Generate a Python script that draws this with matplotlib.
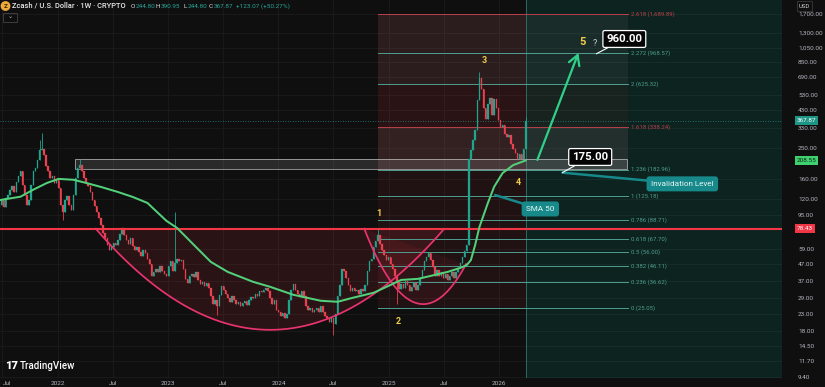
import numpy as np
import pandas as pd
import matplotlib
matplotlib.use("Agg")
import matplotlib.pyplot as plt
import matplotlib.dates as mdates
from matplotlib.ticker import NullLocator, NullFormatter
from matplotlib.patches import Circle, Rectangle

plt.rcParams['font.family'] = ['Roboto', 'DejaVu Sans']

# ---- data (weekly ZEC/USD) ----
start_date = "2021-06-21"
first_open = 106
closes = [
    110, 118, 107, 121, 127, 137, 145, 133, 154, 166,
    178, 147, 127, 110, 118, 147, 178, 186, 210, 242,
    247, 225, 193, 178, 162, 166, 150, 158, 141, 110,
    100, 118, 125, 110, 103, 127, 162, 186, 195, 178,
    162, 150, 145, 133, 118, 108, 100, 91, 83, 74,
    69, 62, 58, 60, 64, 62, 67, 73, 79, 72,
    67, 63, 69, 61, 58, 60, 56, 53, 58, 55,
    51, 47, 40, 42, 44, 42, 46, 43, 41, 40,
    46, 49, 43, 48, 51, 49, 50, 44, 38, 36,
    40, 41, 39, 42, 37.6, 35.5, 36.5, 34.5, 36, 33.5,
    30, 26.7, 28.3, 26, 30.4, 34.5, 32.6, 30.8, 29, 27.5,
    30, 28.3, 26.7, 27.5, 26, 27, 28, 26.3, 28.3, 29.5,
    29, 30.8, 30, 32, 31.5, 32.6, 33.5, 32, 29, 26.7,
    28.3, 24.5, 23.9, 22.5, 23.5, 21.8, 23, 28.3, 32.6, 35.5,
    32.6, 30.8, 29.5, 32, 30, 26, 24.5, 25, 23.9, 24.5,
    25, 23.9, 26, 23.9, 22.5, 21.8, 20.5, 21.8, 20, 23,
    30, 35, 44, 42.5, 38.5, 35, 32, 33.5, 32, 32.6,
    30.8, 33, 32, 35, 42.5, 49, 51, 60, 66, 72,
    63, 58, 54, 50, 52, 47, 44, 40, 36.5, 33,
    35.5, 33.5, 37, 35, 32, 34, 36, 32.6, 35, 38.5,
    43.4, 49, 52, 55, 50, 45, 40, 43.4, 40, 42,
    38.5, 41, 37.6, 40, 42, 38.5, 42, 44.5, 48, 52,
    57, 62, 214, 242, 279, 322, 495, 680, 580, 445,
    380, 470, 510, 400, 505, 440, 370, 335, 345, 305,
    290, 300, 262, 245, 232, 212, 228, 214, 244.80, 367.87,
]
high_wicks = {19: 280, 20: 309, 38: 213, 83: 100, 179: 78, 227: 740, 249: 390.95}
low_wicks = {30: 89, 103: 22.8, 158: 17.1, 188: 26.5}

# SMA 50 as drawn (week index, value)
sma_weeks = [0, 10, 16, 22.5, 28, 35, 41, 48, 56, 63, 70, 75, 79, 84, 92, 100, 108,
             120, 128, 139, 152, 160, 167, 177, 185, 190, 198, 212, 218, 221, 223,
             225, 227, 231, 234, 238, 243, 249]
sma_vals = [118, 124, 137, 151, 160, 158, 151, 142.6, 132.7, 123.6, 113.4, 98.3, 87.7,
            79.3, 62.1, 48.7, 42.2, 36.6, 34.1, 30.4, 27.9, 27.5, 29.1, 31.3, 35.0,
            37.6, 38.2, 42.2, 44.7, 46.5, 50, 62, 80, 113, 143, 174, 195, 208.55]

fib_ratios = ["2.618", "2.272", "2", "1.618", "1.236", "1", "0.786", "0.618",
              "0.5", "0.382", "0.236", "0"]
fib_prices = [1689.89, 968.57, 625.32, 338.24, 182.96, 125.18, 88.71, 67.70,
              56.00, 46.11, 36.62, 25.05]
fib_red = ["2.618", "1.618"]

resistance = 78.43
last_sma = 208.55
last_close = 367.87
target = 960.00
invalidation = 175.00

price_ticks = [1700, 1300, 1050, 850, 690, 530, 430, 330, 250, 160, 120, 95,
               59, 47, 37, 29, 23, 18, 14.5, 11.7, 9.4]
date_ticks = ["2021-07-01", "2022-01-01", "2022-07-01", "2023-01-01", "2023-07-01",
              "2024-01-01", "2024-07-01", "2025-01-01", "2025-07-01", "2026-01-01"]
date_labels = ["Jul", "2022", "Jul", "2023", "Jul", "2024", "Jul", "2025", "Jul", "2026"]

# ---- colours ----
BG = "#0f0f0f"
UP = "#1fa58d"
DOWN = "#e8414f"
SMA_C = "#52d07a"
ARROW_C = "#2fd08a"
PINK = "#e8336f"
RED = "#f23645"
TEAL = "#26a69a"
FIB_T = "#4e9f90"
FIB_R = "#b8404a"
YEL = "#f2cd4a"
AXIS_T = "#b2b5be"

d = mdates.datestr2num

dates = mdates.date2num(pd.date_range(start_date, periods=len(closes), freq="7D"))
c = np.array(closes, dtype=float)
o = np.array([first_open] + closes[:-1], dtype=float)
hi = np.array([high_wicks.get(i, max(o[i], c[i])) for i in range(len(c))])
lo = np.array([low_wicks.get(i, min(o[i], c[i])) for i in range(len(c))])
cols = np.where(c >= o, UP, DOWN)

fig = plt.figure(figsize=(8.25, 3.87), dpi=100, facecolor=BG)
ax = fig.add_axes([0, 9 / 387, 782 / 825, 378 / 387])
ax.set_facecolor(BG)
ax.set_yscale('log')
ax.set_xlim(d("2021-06-23"), d("2028-07-25"))
ax.set_ylim(9.226, 2077)
for s in ax.spines.values():
    s.set_visible(False)

# grid + ticks
ax.set_xticks([d(t) for t in date_ticks])
ax.set_xticklabels(date_labels)
ax.get_xticklabels()[0].set_horizontalalignment('left')
ax.set_yticks(price_ticks)
ax.set_yticklabels([f"{v:,.2f}" for v in price_ticks])
ax.yaxis.set_minor_locator(NullLocator())
ax.yaxis.set_minor_formatter(NullFormatter())
ax.yaxis.tick_right()
ax.tick_params(axis='x', length=0, pad=2, labelsize=4.6, labelcolor=AXIS_T)
ax.tick_params(axis='y', length=0, pad=11.5, labelsize=4.6, labelcolor=AXIS_T)
ax.grid(True, color="#1b1b1b", lw=0.6)
ax.set_axisbelow(True)

fib_start, fib_end, fib_lab = d("2024-11-26"), d("2027-03-04"), d("2027-03-14")
last_day = dates[-1]

# projection zone and fib shading
ax.axvspan(last_day, d("2028-08-01"), color="#089981", alpha=0.15, lw=0, zorder=1)
ax.axvline(last_day, color="#2d6b60", lw=0.7, zorder=1.2)
ax.fill_between([fib_start, last_day], fib_prices[-1], fib_prices[0],
                color=RED, alpha=0.08, lw=0, zorder=1.1)
band_style = [("#a09090", 0.09), ("#a09090", 0.09), (RED, 0.05), ("#c08a8a", 0.12)]
for k, (bc, ba) in enumerate(band_style):
    ax.fill_between([fib_start, fib_end], fib_prices[k + 1], fib_prices[k],
                    color=bc, alpha=ba, lw=0, zorder=1.1)


def arc(t_left, p_left, t_vertex, p_vertex, t_right, n=120):
    tl, tv, tr = d(t_left), d(t_vertex), d(t_right)
    t = np.linspace(tl, tr, n)
    k = (np.log10(p_left) - np.log10(p_vertex)) / (tl - tv) ** 2
    lp = np.log10(p_vertex) + k * (t - tv) ** 2
    chord = np.interp(t, [tl, tr], [lp[0], lp[-1]])
    return t, 10 ** lp, 10 ** chord


big_t, big_p, big_ch = arc("2022-05-06", 78.4, "2023-12-04", 18.4, "2025-06-30")
sm_t, sm_p, sm_ch = arc("2024-10-11", 78.4, "2025-04-24", 26.6, "2025-09-13")
ax.fill_between(big_t, big_p, big_ch, color=RED, alpha=0.12, lw=0, zorder=1.3)
ax.fill_between(sm_t, sm_p, sm_ch, color=RED, alpha=0.07, lw=0, zorder=1.3)

# resistance box
ax.fill_between([d("2022-02-26"), d("2027-03-01")], 184.5, 213, facecolor="#d0d0d0",
                alpha=0.14, edgecolor="none", zorder=2)
ax.add_patch(Rectangle((d("2022-02-26"), 184.5), d("2027-03-01") - d("2022-02-26"), 213 - 184.5,
                       fill=False, edgecolor="#cfcfcf", lw=0.7, alpha=0.65, zorder=2))

# fib lines + labels
for r, p in zip(fib_ratios, fib_prices):
    lc = FIB_R if r in fib_red else FIB_T
    ax.plot([fib_start, fib_end], [p, p], color=lc, lw=0.7, zorder=3)
    ax.text(fib_lab, p, f"{r} ({p:,.2f})", color=lc, fontsize=4.3, va='center', zorder=3)

ax.axhline(last_close, color=TEAL, lw=0.6, ls=(0, (1, 2)), alpha=0.8, zorder=2.5)

# candles
ax.vlines(dates, lo, hi, colors=cols, lw=0.6, zorder=5)
ax.bar(dates, np.abs(c - o), bottom=np.minimum(o, c), width=4.8, color=cols,
       edgecolor=cols, lw=0.2, zorder=6)

ax.axhline(resistance, color=RED, lw=1.5, zorder=7)
ax.plot(big_t, big_p, color=PINK, lw=1.25, zorder=7)
ax.plot(sm_t, sm_p, color=PINK, lw=1.25, zorder=7)

sma_dates = dates[0] + 7 * np.array(sma_weeks)
ax.plot(sma_dates, sma_vals, color=SMA_C, lw=1.45, zorder=8, solid_capstyle='round')

# wave labels
for txt, dt, p, fs in [("1", "2024-11-29", 98, 6.5), ("2", "2025-01-31", 20.6, 6.5),
                       ("3", "2025-11-12", 879, 6.5), ("4", "2026-03-05", 151, 6.5),
                       ("5", "2026-10-03", 1138, 8)]:
    ax.text(d(dt), p, txt, color=YEL, fontsize=fs, fontweight='bold',
            ha='center', va='center', zorder=9)
ax.text(d("2026-11-12"), 1106, "?", color="#d0d0d0", fontsize=6.5, ha='center', va='center', zorder=9)

ax.annotate("", xy=(d("2026-09-20"), 972), xytext=(d("2026-05-07"), 210),
            arrowprops=dict(arrowstyle="->,head_length=0.7,head_width=0.4", color=ARROW_C,
                            lw=1.6, shrinkA=0, shrinkB=0), zorder=9)

callout = dict(boxstyle="round,pad=0.3,rounding_size=0.15", fc="#050505", ec="white", lw=0.9)
ax.annotate(f"{target:.2f}", xy=(d("2026-11-18"), target), xytext=(d("2027-02-19"), 1188),
            color="white", fontsize=8.2, fontweight='bold', ha='center', va='center',
            bbox=callout, zorder=10,
            arrowprops=dict(arrowstyle="-", color="white", lw=0.8, shrinkA=0, shrinkB=0))
ax.annotate(f"{invalidation:.2f}", xy=(d("2026-07-29"), invalidation), xytext=(d("2026-10-29"), 219),
            color="white", fontsize=8.2, fontweight='bold', ha='center', va='center',
            bbox=callout, zorder=10,
            arrowprops=dict(arrowstyle="-", color="white", lw=0.8, shrinkA=0, shrinkB=0))

tealbox = dict(boxstyle="round,pad=0.55,rounding_size=0.35", fc="#17898a", ec="none")
ax.annotate("Invalidation Level", xy=(d("2026-07-29"), invalidation), xytext=(d("2027-08-30"), 149),
            color="#e6f4f4", fontsize=5.9, ha='center', va='center', bbox=tealbox, zorder=9,
            arrowprops=dict(arrowstyle="-", color="#17898a", lw=1.8, shrinkA=0, shrinkB=0))
ax.annotate("SMA 50", xy=(d("2025-12-18"), 127), xytext=(d("2026-05-17"), 104),
            color="#e6f4f4", fontsize=5.9, ha='center', va='center', bbox=tealbox, zorder=9,
            arrowprops=dict(arrowstyle="-", color="#17898a", lw=1.8, shrinkA=0, shrinkB=0))

# price-axis value boxes
ytr = ax.get_yaxis_transform()
for val, fc, tc in [(last_close, "#1f9585", "white"), (last_sma, "#3fd06f", "#0b2614"),
                    (resistance, RED, "white")]:
    ax.text(1.0185, val, f"{val:.2f}", transform=ytr, fontsize=4.6, color=tc, va='center',
            ha='left', clip_on=False, zorder=11,
            bbox=dict(boxstyle="square,pad=0.3", fc=fc, ec="none"))


def fpx(x, y):
    return x / 825, 1 - y / 387


fig.text(*fpx(799, 6), "USD", fontsize=4.3, color="#d0d0d0", va='center',
         bbox=dict(boxstyle="square,pad=0.35", fc=BG, ec="#3a3a3a", lw=0.6))

# header
fig.add_artist(Circle((5.5 / 100, (387 - 6) / 100), 0.042, transform=fig.dpi_scale_trans,
                      color="#f0a93b"))
fig.text(*fpx(5.5, 6.3), "Z", fontsize=4.5, fontweight='bold', color="#3a2200", ha='center', va='center')
fig.text(*fpx(12, 6), "Zcash / U.S. Dollar · 1W · CRYPTO", fontsize=5.4, color="#e8e8e8",
         fontweight='medium', va='center')
for x, s, col in [(131, "O", "#e0e0e0"), (136, "244.80", TEAL), (155.5, "H", "#e0e0e0"),
                  (160.5, "390.95", TEAL), (183, "L", "#e0e0e0"), (187.5, "244.80", TEAL),
                  (209, "C", "#e0e0e0"), (213.5, "367.87", TEAL), (236.5, "+123.07 (+50.27%)", TEAL)]:
    fig.text(*fpx(x, 6), s, fontsize=4.6, color=col, va='center')
fig.add_artist(Rectangle((3 / 100, (387 - 22) / 100), 0.14, 0.09, transform=fig.dpi_scale_trans,
                         fill=False, ec="#444444", lw=0.6))
fig.text(*fpx(10, 17), "⌄", fontsize=4.5, color="#bbbbbb", ha='center', va='center')

# logo
fig.text(*fpx(5, 366), "17", fontsize=8, fontweight='heavy', color="white", va='center')
fig.text(*fpx(20, 366), "TradingView", fontsize=7, fontweight='medium', color="white", va='center')

fig.savefig("out.png", dpi=100, facecolor=BG)
